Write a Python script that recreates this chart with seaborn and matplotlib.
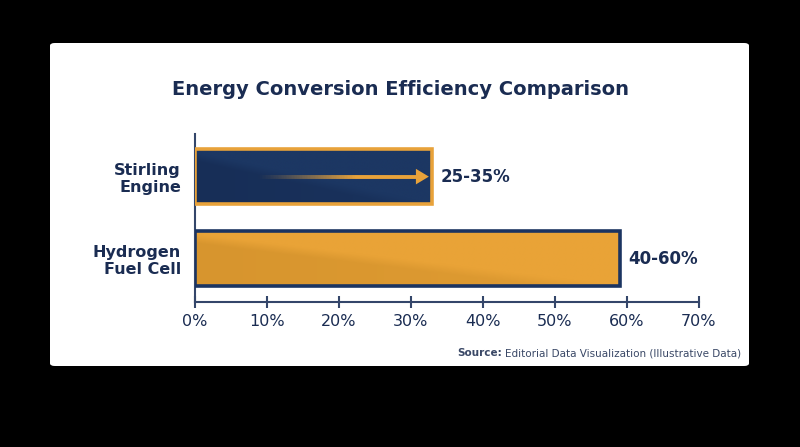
import matplotlib
matplotlib.use("Agg")
import matplotlib.pyplot as plt
import seaborn as sns
import numpy as np
import pandas as pd
from matplotlib.patches import FancyBboxPatch
from matplotlib.collections import LineCollection
from matplotlib.colors import to_rgb

# ---- data ----
categories = ["Stirling\nEngine", "Hydrogen\nFuel Cell"]
efficiency = [33, 59]
value_labels = ["25-35%", "40-60%"]
x_ticks = [0, 10, 20, 30, 40, 50, 60, 70]
tick_labels = ["0%", "10%", "20%", "30%", "40%", "50%", "60%", "70%"]
title = "Energy Conversion Efficiency Comparison"
source_bold = "Source:"
source_text = "Editorial Data Visualization (Illustrative Data)"

NAVY = "#1b3461"
GOLD = "#e8a23a"
TEXT = "#1a2c52"
AXIS = "#34466a"

sns.set_theme(style="white")
plt.rcParams["font.family"] = ["DejaVu Sans"]

fig = plt.figure(figsize=(8, 4.47), dpi=100)
fig.patch.set_facecolor("black")

W, H = 800, 447
card = FancyBboxPatch((50 / W, (H - 366) / H), 699 / W, 323 / H,
                      boxstyle="round,pad=0,rounding_size=0.006",
                      transform=fig.transFigure, facecolor="white",
                      edgecolor="none", zorder=-5)
fig.patches.append(card)

ax = fig.add_axes([195 / W, (H - 302) / H, (698.7 - 195) / W, (302 - 134) / H])
ax.set_facecolor("none")
ax.set_zorder(2)

df = pd.DataFrame({"category": categories, "efficiency": efficiency})
sns.barplot(data=df, x="efficiency", y="category", orient="h", width=0.67,
            ax=ax, color=GOLD, saturation=1)

fill_specs = [
    (("#1c3763", "#172e57"), GOLD),
    (("#e9a337", "#d7952e"), NAVY),
]

for i, p in enumerate(ax.patches):
    (light, dark), edge = fill_specs[i]
    x0, y0 = p.get_x(), p.get_y()
    w, h = p.get_width(), p.get_height()
    nx, ny = 300, 60
    xx, yy = np.meshgrid(np.linspace(0, 1, nx), np.linspace(0, 1, ny))
    t = np.clip((yy - 0.05 - 0.95 * xx) * 6, 0, 1) * (0.5 + 0.5 * (1 - xx))
    l, d = np.array(to_rgb(light)), np.array(to_rgb(dark))
    img = l[None, None, :] * (1 - t[..., None]) + d[None, None, :] * t[..., None]
    im = ax.imshow(img, extent=[x0, x0 + w, y0 + h, y0], aspect="auto",
                   interpolation="bilinear", zorder=2)
    im.set_clip_path(p)
    p.set_facecolor("none")
    p.set_edgecolor(edge)
    p.set_linewidth(2.6)
    p.set_zorder(3)
    ax.text(x0 + w + 1.2, y0 + h / 2, value_labels[i], va="center", ha="left",
            fontsize=12, fontweight="bold", color=TEXT, zorder=4)

ax.set_xlim(0, 70)
ax.set_ylim(1.53, -0.52)

# gradient arrow inside the Stirling bar
p0 = ax.patches[0]
yc = p0.get_y() + p0.get_height() / 2
xs = p0.get_x() + p0.get_width() * 0.26
xe = p0.get_x() + p0.get_width() - 0.5
head = 1.8
xl = np.linspace(xs, xe - head, 100)
segs = [[(xl[k], yc), (xl[k + 1], yc)] for k in range(len(xl) - 1)]
gold = np.array(to_rgb(GOLD))
cols = [(*gold, min(1.0, (k / (len(segs) - 1)) * 1.6) ** 1.2) for k in range(len(segs))]
ax.add_collection(LineCollection(segs, colors=cols, linewidths=2.8, zorder=5))
ax.fill([xe - head, xe, xe - head], [yc - 0.095, yc, yc + 0.095],
        color=GOLD, zorder=5, lw=0)

# axes styling
ax.set_xticks(x_ticks)
ax.set_xticklabels(tick_labels)
ax.set_xlabel("")
ax.set_ylabel("")
for s in ["top", "right"]:
    ax.spines[s].set_visible(False)
for s in ["left", "bottom"]:
    ax.spines[s].set_color(AXIS)
    ax.spines[s].set_linewidth(1.5)
ax.tick_params(axis="x", bottom=True, direction="inout", length=9, width=1.5,
               color=AXIS, labelsize=11.5, labelcolor=TEXT, pad=4)
ax.tick_params(axis="y", left=False, length=0, pad=10)
for lab in ax.get_yticklabels():
    lab.set_fontweight("bold")
    lab.set_fontsize(11.5)
    lab.set_color(TEXT)
    lab.set_linespacing(1.15)

fig.text(400 / W, (H - 89.5) / H, title, ha="center", va="center",
         fontsize=14, fontweight="bold", color=TEXT)

t_reg = fig.text(741 / W, (H - 356.5) / H, source_text, ha="right",
                 va="baseline", fontsize=7.5, color="#3a4866")
fig.canvas.draw()
bb = t_reg.get_window_extent()
fig.text((bb.x0 - 3) / W, (H - 356.5) / H, source_bold, ha="right",
         va="baseline", fontsize=7.5, fontweight="bold", color="#3a4866")

fig.savefig("out.png", dpi=100, facecolor=fig.get_facecolor())
